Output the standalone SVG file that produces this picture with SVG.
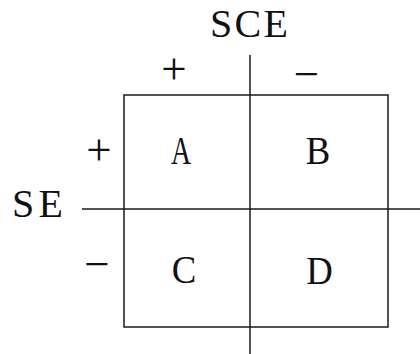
<svg xmlns="http://www.w3.org/2000/svg" width="420" height="354" viewBox="0 0 420 354">
<style>
text{font-family:"Liberation Serif","Times New Roman",serif;fill:#111;}
.t{font-size:40px;}
.c{font-size:40px;text-anchor:middle;}
.s{font-size:45px;text-anchor:middle;}
.ln{stroke:#1a1a1a;stroke-width:1.5;fill:none;}
</style>
<rect width="420" height="354" fill="#fff"/>
<g id="connectors">
<rect class="ln" x="124" y="95" width="264" height="232"/>
<line class="ln" x1="250" y1="55" x2="250" y2="354"/>
<line class="ln" x1="82" y1="209" x2="420" y2="209"/>
</g>
<g id="label-SCE"><text class="t" x="210" y="37" textLength="78">SCE</text></g>
<g id="label-SE"><text class="t" x="12" y="217" textLength="51">SE</text></g>
<g id="sce-plus"><text class="s" x="174" y="84">+</text></g>
<g id="sce-minus"><text class="s" x="306.5" y="88.5">−</text></g>
<g id="se-plus"><text class="s" x="99" y="165">+</text></g>
<g id="se-minus"><text class="s" x="97" y="278.5">−</text></g>
<g id="cell-A"><text class="c" transform="translate(181,164) scale(0.7,1)">A</text></g>
<g id="cell-B"><text class="c" transform="translate(318,164) scale(0.92,1)">B</text></g>
<g id="cell-C"><text class="c" transform="translate(184,283) scale(0.92,1)">C</text></g>
<g id="cell-D"><text class="c" transform="translate(319.5,284) scale(0.92,1)">D</text></g>
</svg>
